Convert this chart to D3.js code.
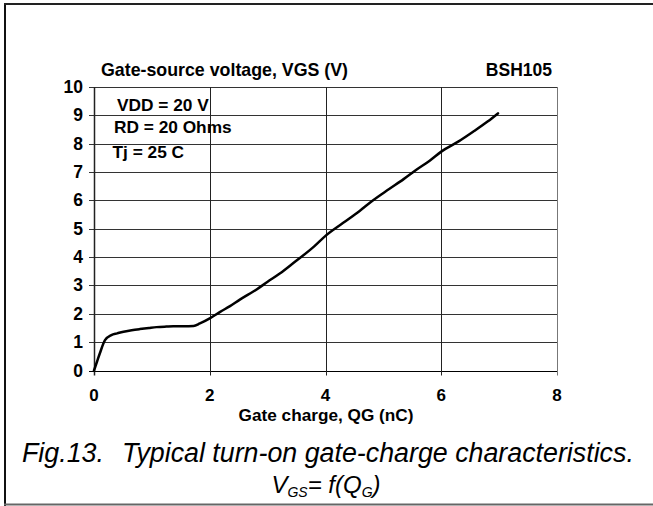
<!DOCTYPE html>
<html><head><meta charset="utf-8">
<script src="https://cdn.jsdelivr.net/npm/d3@7/dist/d3.min.js"></script>
<style>body{margin:0;background:#fff}svg{display:block}text{font-family:"Liberation Sans",Arial,sans-serif}</style>
</head><body>
<script>
const qg = [0,0.05,0.1,0.19,0.3,0.4,0.51,0.65,0.79,0.95,1.08,1.25,1.37,1.55,1.72,1.83,2.0,2.18,2.35,2.52,2.81,3.0,3.21,3.45,3.8,4.0,4.3,4.59,4.8,5.1,5.35,5.57,5.8,6.0,6.3,6.55,6.8,6.98];
const vgs = [0,0.3,0.6,1.07,1.25,1.31,1.37,1.42,1.46,1.5,1.53,1.55,1.56,1.56,1.57,1.66,1.84,2.07,2.27,2.5,2.86,3.13,3.42,3.8,4.37,4.75,5.2,5.63,5.97,6.4,6.75,7.08,7.4,7.72,8.08,8.42,8.78,9.07];
const xTicks = [0,2,4,6,8];
const yTicks = [0,1,2,3,4,5,6,7,8,9,10];
const notes = ["VDD = 20 V","RD = 20 Ohms","Tj = 25 C"];

const W=653,H=506;
const svg=d3.select("body").append("svg").attr("width",W).attr("height",H);
const x=d3.scaleLinear().domain([0,8]).range([94,557]);
const y=d3.scaleLinear().domain([0,10]).range([370.5,87]);

// frame
svg.append("line").attr("x1",5).attr("x2",5).attr("y1",3).attr("y2",506).attr("stroke","#111").attr("stroke-width",2);
svg.append("line").attr("x1",4).attr("x2",653).attr("y1",4).attr("y2",4).attr("stroke","#222").attr("stroke-width",2);
svg.append("line").attr("x1",4).attr("x2",653).attr("y1",504.5).attr("y2",504.5).attr("stroke","#666").attr("stroke-width",2);

// grid
svg.append("g").selectAll("line").data(yTicks).join("line")
  .attr("x1",x(0)-5).attr("x2",x(8)).attr("y1",d=>Math.round(y(d))+0.5).attr("y2",d=>Math.round(y(d))+0.5)
  .attr("stroke",d=>d===0?"#000":"#333").attr("stroke-width",1);
svg.append("g").selectAll("line").data(xTicks).join("line")
  .attr("y1",y(10)).attr("y2",y(0)+5).attr("x1",d=>Math.round(x(d))+0.5).attr("x2",d=>Math.round(x(d))+0.5)
  .attr("stroke",d=>d===8?"#777":"#222").attr("stroke-width",d=>d===0?1.5:1);

// tick labels
svg.append("g").selectAll("text").data(yTicks).join("text")
  .attr("x",83).attr("y",d=>y(d)+6).attr("text-anchor","end")
  .attr("font-size",17.5).attr("font-weight","bold").text(d=>d);
svg.append("g").selectAll("text").data(xTicks).join("text")
  .attr("x",d=>x(d)).attr("y",401).attr("text-anchor","middle")
  .attr("font-size",17).attr("font-weight","bold").text(d=>d);

// titles
svg.append("text").attr("x",101).attr("y",76).attr("font-size",17.8).attr("font-weight","bold").text("Gate-source voltage, VGS (V)");
svg.append("text").attr("x",552).attr("y",76).attr("text-anchor","end").attr("font-size",17.5).attr("font-weight","bold").text("BSH105");
svg.append("text").attr("x",326).attr("y",421).attr("text-anchor","middle").attr("font-size",17.2).attr("font-weight","bold").text("Gate charge, QG (nC)");

// notes
const nx=[117,114,112.5], ny=[111,133,158];
svg.append("g").selectAll("text").data(notes).join("text")
  .attr("x",(d,i)=>nx[i]).attr("y",(d,i)=>ny[i]).attr("font-size",17.3).attr("font-weight","bold").text(d=>d);

// curve
const pts=qg.map((q,i)=>[q,vgs[i]]);
svg.append("path").datum(pts).attr("fill","none").attr("stroke","#000").attr("stroke-width",2.5)
  .attr("stroke-linejoin","round").attr("stroke-linecap","round")
  .attr("d",d3.line().x(d=>x(d[0])).y(d=>y(d[1])).curve(d3.curveMonotoneX));

// caption
const c1=svg.append("text").attr("y",462).attr("font-size",26.8).attr("font-style","italic");
c1.append("tspan").attr("x",22).text("Fig.13.");
c1.append("tspan").attr("x",122).text("Typical turn-on gate-charge characteristics.");
const c2=svg.append("text").attr("x",326).attr("y",493).attr("text-anchor","middle").attr("font-size",24).attr("font-style","italic");
c2.append("tspan").text("V");
c2.append("tspan").attr("font-size",14).attr("dy",4).text("GS");
c2.append("tspan").attr("dy",-4).text("= f(Q");
c2.append("tspan").attr("font-size",14).attr("dy",4).text("G");
c2.append("tspan").attr("dy",-4).text(")");
</script>
</body></html>
